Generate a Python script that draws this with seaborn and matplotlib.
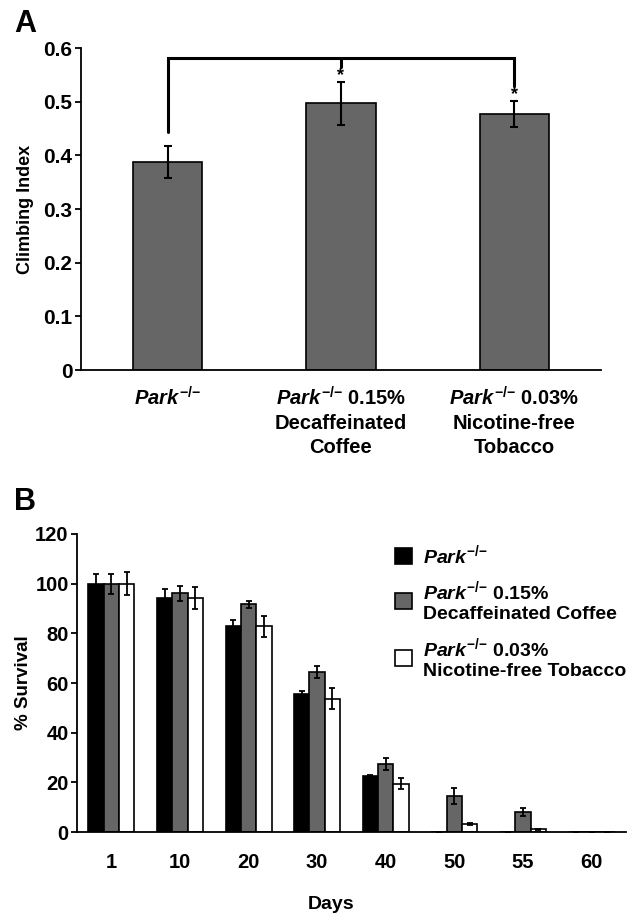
import matplotlib
matplotlib.use("Agg")
import matplotlib.pyplot as plt
from matplotlib.patches import Patch
from matplotlib.ticker import FuncFormatter
import pandas as pd
import seaborn as sns

# Panel A - climbing index
grupos_a = ["park", "park_cafe", "park_tabaco"]
rotulos_a = [r"$\mathit{Park}^{{-}/{-}}$",
             r"$\mathit{Park}^{{-}/{-}}$ 0.15%" + "\nDecaffeinated\nCoffee",
             r"$\mathit{Park}^{{-}/{-}}$ 0.03%" + "\nNicotine-free\nTobacco"]
indice = [0.388, 0.497, 0.477]
indice_err = [0.030, 0.040, 0.025]

# Panel B - survival by day
dias = ["1", "10", "20", "30", "40", "50", "55", "60"]
grupos_b = ["Park", "Coffee", "Tobacco"]
rotulos_b = [r"$\mathit{Park}^{{-}/{-}}$",
             r"$\mathit{Park}^{{-}/{-}}$ 0.15%" + "\nDecaffeinated Coffee",
             r"$\mathit{Park}^{{-}/{-}}$ 0.03%" + "\nNicotine-free Tobacco"]
sobrev_park = [100, 94.2, 82.8, 55.7, 22.4, 0, 0, 0]
sobrev_park_err = [4.0, 3.6, 2.7, 1.2, 0.5, 0, 0, 0]
sobrev_cafe = [100, 96.1, 91.7, 64.4, 27.3, 14.5, 8.1, 0]
sobrev_cafe_err = [4.0, 3.1, 1.3, 2.3, 2.5, 3.1, 1.5, 0]
sobrev_tabaco = [100, 94.2, 82.8, 53.7, 19.5, 3.1, 1.1, 0]
sobrev_tabaco_err = [4.5, 4.6, 4.1, 4.2, 2.1, 0.4, 0.3, 0]

cores_b = ["#000000", "#666666", "#ffffff"]

sns.set_theme(style="white")
plt.rcParams["font.family"] = ["Liberation Sans", "DejaVu Sans"]
plt.rcParams["font.weight"] = "bold"
plt.rcParams["mathtext.fontset"] = "custom"
plt.rcParams["mathtext.rm"] = "Liberation Sans:bold"
plt.rcParams["mathtext.it"] = "Liberation Sans:italic:bold"
plt.rcParams["mathtext.bf"] = "Liberation Sans:bold"
plt.rcParams["axes.linewidth"] = 1.3
for chave in ["text.color", "axes.labelcolor", "xtick.color", "ytick.color", "axes.edgecolor"]:
    plt.rcParams[chave] = "black"

fig = plt.figure(figsize=(6.27, 9.15), dpi=100)
ax_a = fig.add_axes([0.129, 0.5956, 0.8295, 0.3519])
ax_b = fig.add_axes([0.1228, 0.0907, 0.8754, 0.3257])

# ---- A ----
sns.barplot(x=grupos_a, y=indice, color="#666666", saturation=1, width=0.4,
            edgecolor="black", linewidth=1.2, errorbar=None, ax=ax_a)
ax_a.errorbar(range(len(grupos_a)), indice, yerr=indice_err, fmt="none",
              ecolor="black", elinewidth=1.5, capsize=3, capthick=1.5)

ax_a.set_xlim(-0.5, 2.5)
ax_a.set_ylim(0, 0.6)
ax_a.set_yticks([0, 0.1, 0.2, 0.3, 0.4, 0.5, 0.6])
ax_a.yaxis.set_major_formatter(FuncFormatter(lambda v, p: f"{v:g}"))
ax_a.set_xticks(range(3))
ax_a.set_xticklabels(rotulos_a, fontsize=14.5, linespacing=1.3)
ax_a.set_xticks([-0.5, 0.5, 1.5, 2.5], minor=True)
ax_a.tick_params(axis="x", which="major", length=0, pad=12)
ax_a.tick_params(axis="x", which="minor", length=5, width=1.3, direction="out")
ax_a.tick_params(axis="y", length=4, width=1.3, direction="out", labelsize=15, pad=2, left=True)
ax_a.set_ylabel("Climbing Index", fontsize=13, fontweight="bold")
ax_a.yaxis.set_label_coords(-0.09, 0.5)
sns.despine(ax=ax_a)

# bracket + asterisks
ax_a.plot([0, 0, 2, 2], [0.443, 0.581, 0.581, 0.530], color="black", lw=2.2, clip_on=False,
          solid_joinstyle="miter")
ax_a.plot([1, 1], [0.581, 0.564], color="black", lw=2.2, clip_on=False)
ax_a.text(1, 0.548, "*", ha="center", va="center", fontsize=13)
ax_a.text(2, 0.513, "*", ha="center", va="center", fontsize=13)

# ---- B ----
df = pd.DataFrame({
    "dia": dias * 3,
    "grupo": [g for g in grupos_b for _ in dias],
    "valor": sobrev_park + sobrev_cafe + sobrev_tabaco,
})
sns.barplot(data=df, x="dia", y="valor", hue="grupo", palette=cores_b, saturation=1,
            width=0.67, gap=0, edgecolor="black", linewidth=1.2, errorbar=None,
            legend=False, ax=ax_b)
for barras, erros in zip(ax_b.containers, [sobrev_park_err, sobrev_cafe_err, sobrev_tabaco_err]):
    xs = [p.get_x() + p.get_width() / 2 for p in barras]
    hs = [p.get_height() for p in barras]
    ax_b.errorbar(xs, hs, yerr=erros, fmt="none", ecolor="black", elinewidth=1.3,
                  capsize=2.5, capthick=1.3)

ax_b.set_xlim(-0.5, 7.5)
ax_b.set_ylim(0, 120)
ax_b.set_yticks([0, 20, 40, 60, 80, 100, 120])
ax_b.set_xticks(range(len(dias)))
ax_b.set_xticklabels(dias, fontsize=14.5)
ax_b.set_xticks([i - 0.5 for i in range(len(dias) + 1)], minor=True)
ax_b.tick_params(axis="x", which="major", length=0, pad=15)
ax_b.tick_params(axis="x", which="minor", length=5, width=1.3, direction="out")
ax_b.tick_params(axis="y", length=4, width=1.3, direction="out", labelsize=14.5, pad=2, left=True)
ax_b.set_ylabel("% Survival", fontsize=13.5, fontweight="bold")
ax_b.yaxis.set_label_coords(-0.082, 0.5)
ax_b.set_xlabel("Days", fontsize=14, fontweight="bold")
ax_b.xaxis.set_label_coords(0.463, -0.215)
sns.despine(ax=ax_b)

handles = [Patch(facecolor=c, edgecolor="black", linewidth=1.2) for c in cores_b]
leg = ax_b.legend(handles, rotulos_b, loc="upper left", bbox_to_anchor=(385 / 627, 1 - 533 / 915),
                  bbox_transform=fig.transFigure, frameon=False, borderpad=0, fontsize=14,
                  handlelength=0.88, handleheight=0.93, handletextpad=0.55, labelspacing=0.65)
for t in leg.get_texts():
    t.set_linespacing(1.25)

fig.text(0.022, 0.990, "A", fontsize=22, fontweight="bold", va="top")
fig.text(0.022, 0.468, "B", fontsize=22, fontweight="bold", va="top")

fig.savefig("out.png", dpi=100)
